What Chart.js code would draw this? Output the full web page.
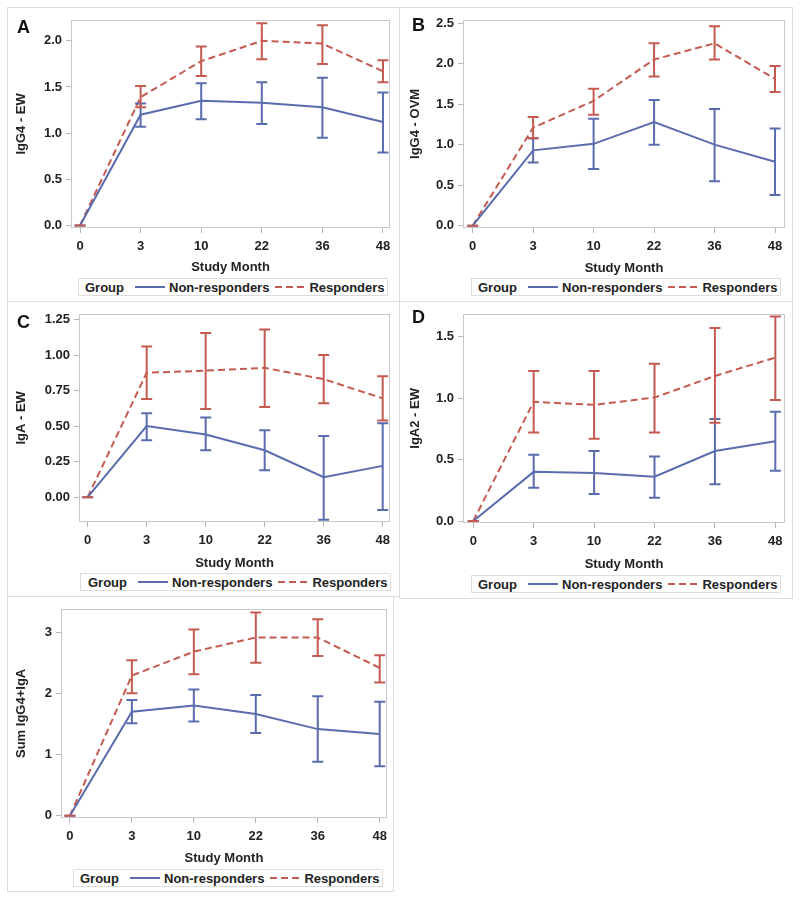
<!DOCTYPE html>
<html><head><meta charset="utf-8">
<script src="https://cdn.jsdelivr.net/npm/chart.js@4.4.1/dist/chart.umd.min.js"></script>
<style>
html,body{margin:0;padding:0;background:#fff;}
body{width:800px;height:900px;position:relative;overflow:hidden;font-family:"Liberation Sans",Arial,sans-serif;}
.panel{position:absolute;border:1px solid #dcdcdc;box-sizing:border-box;}
.panel canvas{position:absolute;left:0;top:0;}
.letter{position:absolute;font:bold 18px "Liberation Sans",Arial,sans-serif;line-height:18px;color:#111;}
.leg{position:absolute;border:1px solid #dcdcdc;box-sizing:border-box;height:18px;background:#fff;font:bold 13px "Liberation Sans",Arial,sans-serif;color:#222;display:flex;align-items:center;white-space:nowrap;padding-right:2px;}
.leg svg{display:block;}
</style></head>
<body>
<script>
// ---------- data ----------
const months = ['0','3','10','22','36','48'];
const groups = ['Non-responders','Responders'];
const legendTitle = 'Group';
const xTitle = 'Study Month';

// Panel A: IgG4 - EW
const nrA   = [0, 1.20, 1.35, 1.33, 1.28, 1.12];
const nrA_lo= [0, 1.07, 1.15, 1.10, 0.95, 0.79];
const nrA_hi= [0, 1.32, 1.54, 1.55, 1.60, 1.44];
const rA    = [0, 1.39, 1.78, 2.00, 1.97, 1.67];
const rA_lo = [0, 1.28, 1.62, 1.80, 1.75, 1.55];
const rA_hi = [0, 1.51, 1.94, 2.19, 2.17, 1.79];
const yTicksA = [0, 0.5, 1.0, 1.5, 2.0];
const yLabelsA = ['0.0','0.5','1.0','1.5','2.0'];

// Panel B: IgG4 - OVM
const nrB   = [0, 0.93, 1.01, 1.28, 1.00, 0.79];
const nrB_lo= [0, 0.78, 0.70, 1.00, 0.55, 0.38];
const nrB_hi= [0, 1.08, 1.32, 1.55, 1.44, 1.20];
const rB    = [0, 1.21, 1.54, 2.05, 2.25, 1.81];
const rB_lo = [0, 1.08, 1.37, 1.84, 2.05, 1.65];
const rB_hi = [0, 1.34, 1.69, 2.25, 2.46, 1.97];
const yTicksB = [0, 0.5, 1.0, 1.5, 2.0, 2.5];
const yLabelsB = ['0.0','0.5','1.0','1.5','2.0','2.5'];

// Panel C: IgA - EW
const nrC   = [0, 0.50, 0.44, 0.33, 0.14, 0.22];
const nrC_lo= [0, 0.40, 0.33, 0.19, -0.16, -0.09];
const nrC_hi= [0, 0.59, 0.56, 0.47, 0.43, 0.52];
const rC    = [0, 0.875, 0.89, 0.91, 0.83, 0.695];
const rC_lo = [0, 0.69, 0.62, 0.635, 0.66, 0.54];
const rC_hi = [0, 1.06, 1.155, 1.18, 1.00, 0.85];
const yTicksC = [0, 0.25, 0.5, 0.75, 1.0, 1.25];
const yLabelsC = ['0.00','0.25','0.50','0.75','1.00','1.25'];

// Panel D: IgA2 - EW
const nrD   = [0, 0.40, 0.39, 0.36, 0.57, 0.65];
const nrD_lo= [0, 0.27, 0.22, 0.19, 0.30, 0.41];
const nrD_hi= [0, 0.54, 0.57, 0.525, 0.83, 0.89];
const rD    = [0, 0.97, 0.945, 1.005, 1.18, 1.33];
const rD_lo = [0, 0.72, 0.67, 0.72, 0.80, 0.985];
const rD_hi = [0, 1.22, 1.22, 1.28, 1.57, 1.665];
const yTicksD = [0, 0.5, 1.0, 1.5];
const yLabelsD = ['0.0','0.5','1.0','1.5'];

// Panel E: Sum IgG4+IgA
const nrE   = [0, 1.70, 1.80, 1.66, 1.415, 1.335];
const nrE_lo= [0, 1.51, 1.54, 1.35, 0.88, 0.81];
const nrE_hi= [0, 1.89, 2.06, 1.97, 1.95, 1.86];
const rE    = [0, 2.29, 2.68, 2.91, 2.91, 2.415];
const rE_lo = [0, 2.00, 2.31, 2.50, 2.61, 2.175];
const rE_hi = [0, 2.54, 3.04, 3.32, 3.21, 2.62];
const yTicksE = [0, 1, 2, 3];
const yLabelsE = ['0','1','2','3'];

// ---------- styling / layout ----------
const BLUE = '#5a6cae';
const RED = '#c45a50';
const FONT = '"Liberation Sans", Arial, sans-serif';
const TXT = '#222';

const panels = [
  {letter:'A', yTitle:'IgG4 - EW', nr:nrA, nrLo:nrA_lo, nrHi:nrA_hi, r:rA, rLo:rA_lo, rHi:rA_hi, yt:yTicksA, yl:yLabelsA,
   box:[7,7,393,295], plot:[71,13,390,228], xr:[-0.149,5.116], yr:[-0.028,2.228], titleX:21.7, xTitleY:267, letterPos:[17,17.6], leg:[78,278,6]},
  {letter:'B', yTitle:'IgG4 - OVM', nr:nrB, nrLo:nrB_lo, nrHi:nrB_hi, r:rB, rLo:rB_lo, rHi:rB_hi, yt:yTicksB, yl:yLabelsB,
   box:[399,7,394,295], plot:[463,18,785,228], xr:[-0.16,5.165], yr:[-0.028,2.54], titleX:415, xTitleY:268, letterPos:[412,15.6], leg:[471,278,6]},
  {letter:'C', yTitle:'IgA - EW', nr:nrC, nrLo:nrC_lo, nrHi:nrC_hi, r:rC, rLo:rC_lo, rHi:rC_hi, yt:yTicksC, yl:yLabelsC,
   box:[7,301,393,296], plot:[79,310,390,522], xr:[-0.147,5.124], yr:[-0.175,1.29], titleX:21.7, xTitleY:563.3, letterPos:[17,312.6], leg:[80,573,7]},
  {letter:'D', yTitle:'IgA2 - EW', nr:nrD, nrLo:nrD_lo, nrHi:nrD_hi, r:rD, rLo:rD_lo, rHi:rD_hi, yt:yTicksD, yl:yLabelsD,
   box:[399,301,394,298], plot:[463,310,785,523], xr:[-0.17,5.16], yr:[-0.016,1.686], titleX:415, xTitleY:564.3, letterPos:[412,307.6], leg:[471,575,6]},
  {letter:'', yTitle:'Sum IgG4+IgA', nr:nrE, nrLo:nrE_lo, nrHi:nrE_hi, r:rE, rLo:rE_lo, rHi:rE_hi, yt:yTicksE, yl:yLabelsE,
   box:[7,596,387,296], plot:[61,604,390,818], xr:[-0.144,5.117], yr:[-0.037,3.38], titleX:21.7, xTitleY:858.3, letterPos:[17,600], leg:[73,869,6]}
];

// ---------- plugins ----------
const framePlugin = {
  id:'frame',
  beforeDatasetsDraw(chart){
    const a = chart.chartArea, ctx = chart.ctx;
    ctx.save();
    ctx.strokeStyle = '#c9c9c9';
    ctx.lineWidth = 1;
    ctx.strokeRect(Math.round(a.left)+0.5, Math.round(a.top)+0.5, Math.round(a.right-a.left)-1, Math.round(a.bottom-a.top)-1);
    ctx.restore();
  }
};
const errPlugin = {
  id:'errbars',
  afterDatasetsDraw(chart){
    const ctx = chart.ctx, xs = chart.scales.x, ys = chart.scales.y;
    chart.data.datasets.forEach(ds => {
      if (!ds.errLo) return;
      ctx.save();
      ctx.strokeStyle = ds.borderColor;
      ctx.lineWidth = 2;
      ctx.setLineDash([]);
      ds.data.forEach((pt, i) => {
        const x = xs.getPixelForValue(pt.x);
        const y1 = ys.getPixelForValue(ds.errLo[i]);
        const y2 = ys.getPixelForValue(ds.errHi[i]);
        ctx.beginPath();
        ctx.moveTo(x, y1); ctx.lineTo(x, y2);
        ctx.moveTo(x-5.5, y1); ctx.lineTo(x+5.5, y1);
        ctx.moveTo(x-5.5, y2); ctx.lineTo(x+5.5, y2);
        ctx.stroke();
      });
      ctx.restore();
    });
  }
};

function toPoints(arr){ return arr.map((v,i)=>({x:i, y:v})); }

function makePanel(p){
  const div = document.createElement('div');
  div.className = 'panel';
  Object.assign(div.style, {left:p.box[0]+'px', top:p.box[1]+'px', width:p.box[2]+'px', height:p.box[3]+'px'});
  document.body.appendChild(div);
  const W = p.box[2]-2, H = p.box[3]-2, cl = p.box[0]+1, ct = p.box[1]+1;
  const cv = document.createElement('canvas');
  cv.width = W; cv.height = H; cv.style.width = W+'px'; cv.style.height = H+'px';
  div.appendChild(cv);

  const plotL = p.plot[0]-cl, plotT = p.plot[1]-ct, plotR = p.plot[2]-cl, plotB = p.plot[3]-ct;
  const lh = 13*1.2;
  const xAxisH = p.xTitleY - p.plot[3] + lh/2;

  new Chart(cv, {
    type:'line',
    data:{
      datasets:[
        {label:groups[0], data:toPoints(p.nr), errLo:p.nrLo, errHi:p.nrHi, borderColor:BLUE, backgroundColor:BLUE, borderWidth:2, pointRadius:0, tension:0, fill:false},
        {label:groups[1], data:toPoints(p.r), errLo:p.rLo, errHi:p.rHi, borderColor:RED, backgroundColor:RED, borderWidth:2, borderDash:[7,4], pointRadius:0, tension:0, fill:false}
      ]
    },
    options:{
      responsive:false, animation:false, devicePixelRatio:1,
      layout:{padding:{left:0, top:plotT, right:W-plotR, bottom:H-plotB-xAxisH}},
      plugins:{legend:{display:false}, tooltip:{enabled:false}},
      scales:{
        x:{
          type:'linear', min:p.xr[0], max:p.xr[1],
          afterBuildTicks:(s)=>{ s.ticks = months.map((m,i)=>({value:i})); },
          afterFit:(s)=>{ s.height = xAxisH; },
          ticks:{callback:(v)=>months[Math.round(v)], color:TXT, font:{family:FONT, size:13, weight:'bold'}, padding:6, maxRotation:0, autoSkip:false},
          grid:{drawOnChartArea:false, drawTicks:true, tickLength:5, color:'#b8b8b8'},
          border:{display:false},
          title:{display:true, text:xTitle, color:TXT, font:{family:FONT, size:13, weight:'bold'}, padding:{top:0, bottom:0}}
        },
        y:{
          type:'linear', min:p.yr[0], max:p.yr[1],
          afterBuildTicks:(s)=>{ s.ticks = p.yt.map(v=>({value:v})); },
          afterFit:(s)=>{ s.width = plotL; },
          ticks:{callback:(v)=>{ const k = p.yt.findIndex(t=>Math.abs(t-v)<1e-9); return k>=0 ? p.yl[k] : ''; }, color:TXT, font:{family:FONT, size:13, weight:'bold'}, padding:4},
          grid:{drawOnChartArea:false, drawTicks:true, tickLength:5, color:'#b8b8b8'},
          border:{display:false},
          title:{display:true, text:p.yTitle, color:TXT, font:{family:FONT, size:13, weight:'bold'}, padding:{top:p.titleX-cl-lh/2, bottom:0}}
        }
      }
    },
    plugins:[framePlugin, errPlugin]
  });

  if (p.letter){
    const L = document.createElement('div');
    L.className = 'letter';
    L.textContent = p.letter;
    L.style.left = p.letterPos[0]+'px'; L.style.top = p.letterPos[1]+'px';
    document.body.appendChild(L);
  }

  const lg = document.createElement('div');
  lg.className = 'leg';
  lg.style.left = p.leg[0]+'px'; lg.style.top = p.leg[1]+'px'; lg.style.paddingLeft = p.leg[2]+'px';
  lg.innerHTML =
    '<span>'+legendTitle+'</span>' +
    '<svg width="30" height="4" style="margin-left:11px;margin-right:4px"><line x1="0" y1="2" x2="30" y2="2" stroke="'+BLUE+'" stroke-width="2"/></svg>' +
    '<span>'+groups[0]+'</span>' +
    '<svg width="30" height="4" style="margin-left:6px;margin-right:4px"><line x1="0" y1="2" x2="30" y2="2" stroke="'+RED+'" stroke-width="2" stroke-dasharray="7 4"/></svg>' +
    '<span>'+groups[1]+'</span>';
  document.body.appendChild(lg);
}

panels.forEach(makePanel);
</script>
</body></html>
